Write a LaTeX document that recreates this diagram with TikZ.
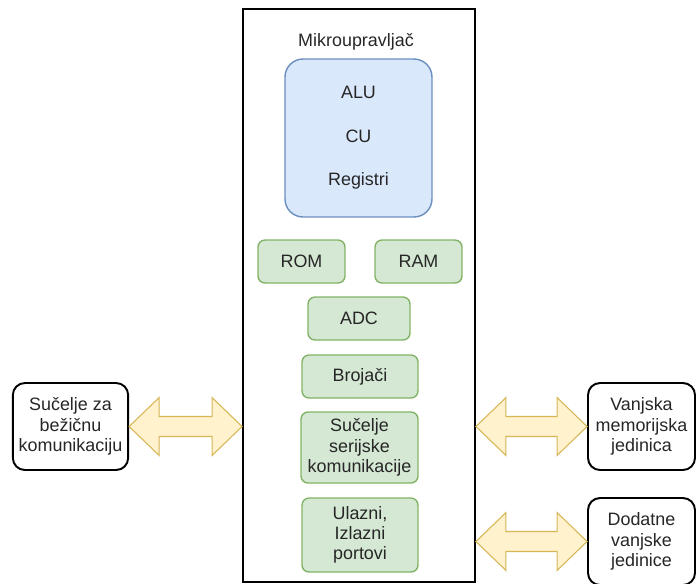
\documentclass[tikz,border=0pt]{standalone}
\usepackage{fontspec}
\setmainfont{Liberation Sans}
\usetikzlibrary{calc}

\definecolor{coreFill}{HTML}{DAE8FC}
\definecolor{coreLine}{HTML}{6C8EBF}
\definecolor{unitFill}{HTML}{D5E8D4}
\definecolor{unitLine}{HTML}{82B366}
\definecolor{busFill}{HTML}{FFF2CC}
\definecolor{busLine}{HTML}{D6B656}

% wide two-headed bus arrow between two points on one level
\newcommand{\busarrow}[2]{%
  \draw[bus] (#1) -- ++(30,-29) -- ++(0,19) -- ($(#2)+(-30,-10)$) -- ++(0,-19)
    -- (#2) -- ++(-30,29) -- ++(0,-19) -- ($(#1)+(30,10)$) -- ++(0,19) -- cycle;}

\begin{document}
\begin{tikzpicture}[x=0.02cm,y=-0.02cm,
    every node/.style={font=\fontsize{10.2}{11.5}\selectfont,text=black!85,align=center},
    mcubox/.style={draw,line width=1.1pt,minimum width=4.64cm,minimum height=11.46cm},
    corebox/.style={draw=coreLine,fill=coreFill,line width=0.8pt,rounded corners=0.36cm,
      minimum width=2.94cm,minimum height=3.16cm,font=\fontsize{10.2}{24.7}\selectfont},
    unit/.style={draw=unitLine,fill=unitFill,line width=0.8pt,rounded corners=0.14cm,minimum height=0.86cm},
    extbox/.style={draw,line width=1.1pt,rounded corners=0.24cm,fill=white,minimum height=1.74cm},
    bus/.style={draw=busLine,fill=busFill,line width=0.6pt}]

    \useasboundingbox (0,0) rectangle (697,583);

    % microcontroller
    \node[mcubox] (mcu) at (359,295.5) {};
    \node (title) at (356,42) {Mikroupravljač};
    \node[corebox] (core) at (358.5,138) {ALU\\CU\\Registri};

    \node[unit,minimum width=1.74cm] (rom) at (301.5,261.5) {ROM};
    \node[unit,minimum width=1.74cm] (ram) at (418.5,261.5) {RAM};
    \node[unit,minimum width=2.04cm] (adc) at (359,318.5) {ADC};
    \node[unit,minimum width=2.32cm] (cnt) at (360,376.5) {Brojači};
    \node[unit,minimum width=2.34cm,minimum height=1.42cm] (serial) at (359.5,447.5) {Sučelje\\serijske\\komunikacije};
    \node[unit,minimum width=2.32cm,minimum height=1.48cm] (ports) at (360,535) {Ulazni,\\Izlazni\\portovi};

    % outside blocks
    \node[extbox,minimum width=2.3cm] (wifi) at (70.5,426.5) {Sučelje za\\bežičnu\\komunikaciju};
    \node[extbox,minimum width=2.14cm] (extmem) at (641.5,426.5) {Vanjska\\memorijska\\jedinica};
    \node[extbox,minimum width=2.14cm] (extdev) at (641.5,541.5) {Dodatne\\vanjske\\jedinice};

    \coordinate (wifiR) at (mcu.west|-wifi);
    \coordinate (memL) at (mcu.east|-extmem);
    \coordinate (devL) at (mcu.east|-extdev);

    \busarrow{wifi.east}{wifiR}
    \busarrow{memL}{extmem.west}
    \busarrow{devL}{extdev.west}
\end{tikzpicture}
\end{document}
